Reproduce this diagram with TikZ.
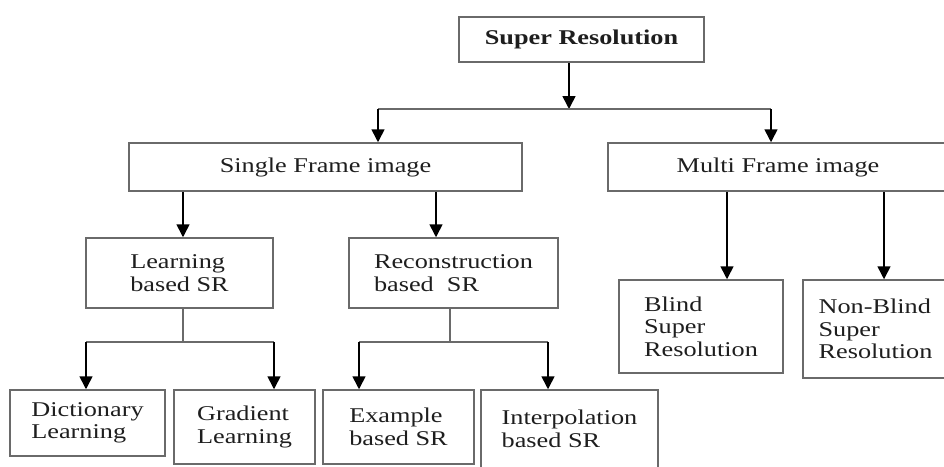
\documentclass[tikz,border=0pt]{standalone}
\usepackage{fontspec}
\setmainfont{Liberation Serif}[FakeStretch=1.25]
\usetikzlibrary{arrows.meta}
\definecolor{boxgray}{HTML}{6A6A6A}
\definecolor{txt}{HTML}{1E1E1E}
\tikzset{
  box/.style={draw=boxgray,line width=1.5pt,rectangle,inner sep=0pt,align=left,text=txt,font=\fontsize{21}{22.5}\selectfont},
  link/.style={line width=1.6pt,-{Triangle[length=13pt,width=13pt]}},
  stem/.style={draw=boxgray,line width=1.6pt}
}

\begin{document}
\begin{tikzpicture}[x=1pt,y=-1pt]
\useasboundingbox (0,0) rectangle (944,466);

% top
\node [box,minimum width=245pt,minimum height=45pt,font=\bfseries\fontsize{21}{22.5}\selectfont] (sr) at(581.5,39.5){Super Resolution};

\node [box,minimum width=393pt,minimum height=48pt] (sf) at(325.5,167){Single Frame image};
\node [box,minimum width=340pt,minimum height=48pt] (mf) at(778,167){Multi Frame image};

\node [box,minimum width=187pt,minimum height=70pt] (lsr) at(179.5,273){Learning\\based SR};
\node [box,minimum width=209pt,minimum height=70pt] (rsr) at(453.5,273){Reconstruction\\based~ SR};

\node [box,minimum width=164pt,minimum height=93pt] (bsr) at(701,326.5){Blind\\Super\\Resolution};
\node [box,minimum width=145pt,minimum height=98pt] (nbsr) at(875.5,329){Non-Blind\\Super\\Resolution};

% bottom row
\node [box,minimum width=155pt,minimum height=66pt] (dl) at(87.5,423){Dictionary\\Learning};
\node [box,minimum width=141pt,minimum height=74pt] (gl) at(244.5,427){Gradient\\Learning};
\node [box,minimum width=151pt,minimum height=74pt] (ex) at(398.5,427){Example\\based SR};
\node [box,minimum width=177pt,minimum height=78pt] (ip) at(569.5,429){Interpolation\\based SR};

\coordinate (a0) at(569,109);
\coordinate (a1) at(378,109);
\coordinate (a2) at(771,109);
\draw[link] (sr.south -| a0) -- (a0);
\draw[stem] (a1) -- (a2);
\draw[link] (a1) -- (sf.north -| a1);
\draw[link] (a2) -- (mf.north -| a2);

\coordinate (b1) at(183,0);
\coordinate (b2) at(436,0);
\draw[link] (sf.south -| b1) -- (lsr.north -| b1);
\draw[link] (sf.south -| b2) -- (rsr.north -| b2);

\coordinate (c1) at(727,0);
\coordinate (c2) at(884,0);
\draw[link] (mf.south -| c1) -- (bsr.north -| c1);
\draw[link] (mf.south -| c2) -- (nbsr.north -| c2);

% learning based
\coordinate (d0) at(183,342);
\coordinate (d1) at(86,342);
\coordinate (d2) at(274,342);
\draw[stem] (lsr.south -| d0) -- (d0);
\draw[stem] (d1) -- (d2);
\draw[link] (d1) -- (dl.north -| d1);
\draw[link] (d2) -- (gl.north -| d2);

% reconstruction based
\coordinate (e0) at(450,342);
\coordinate (e1) at(359,342);
\coordinate (e2) at(548,342);
\draw[stem] (rsr.south -| e0) -- (e0);
\draw[stem] (e1) -- (e2);
\draw[link] (e1) -- (ex.north -| e1);
\draw[link] (e2) -- (ip.north -| e2);

\end{tikzpicture}
\end{document}
